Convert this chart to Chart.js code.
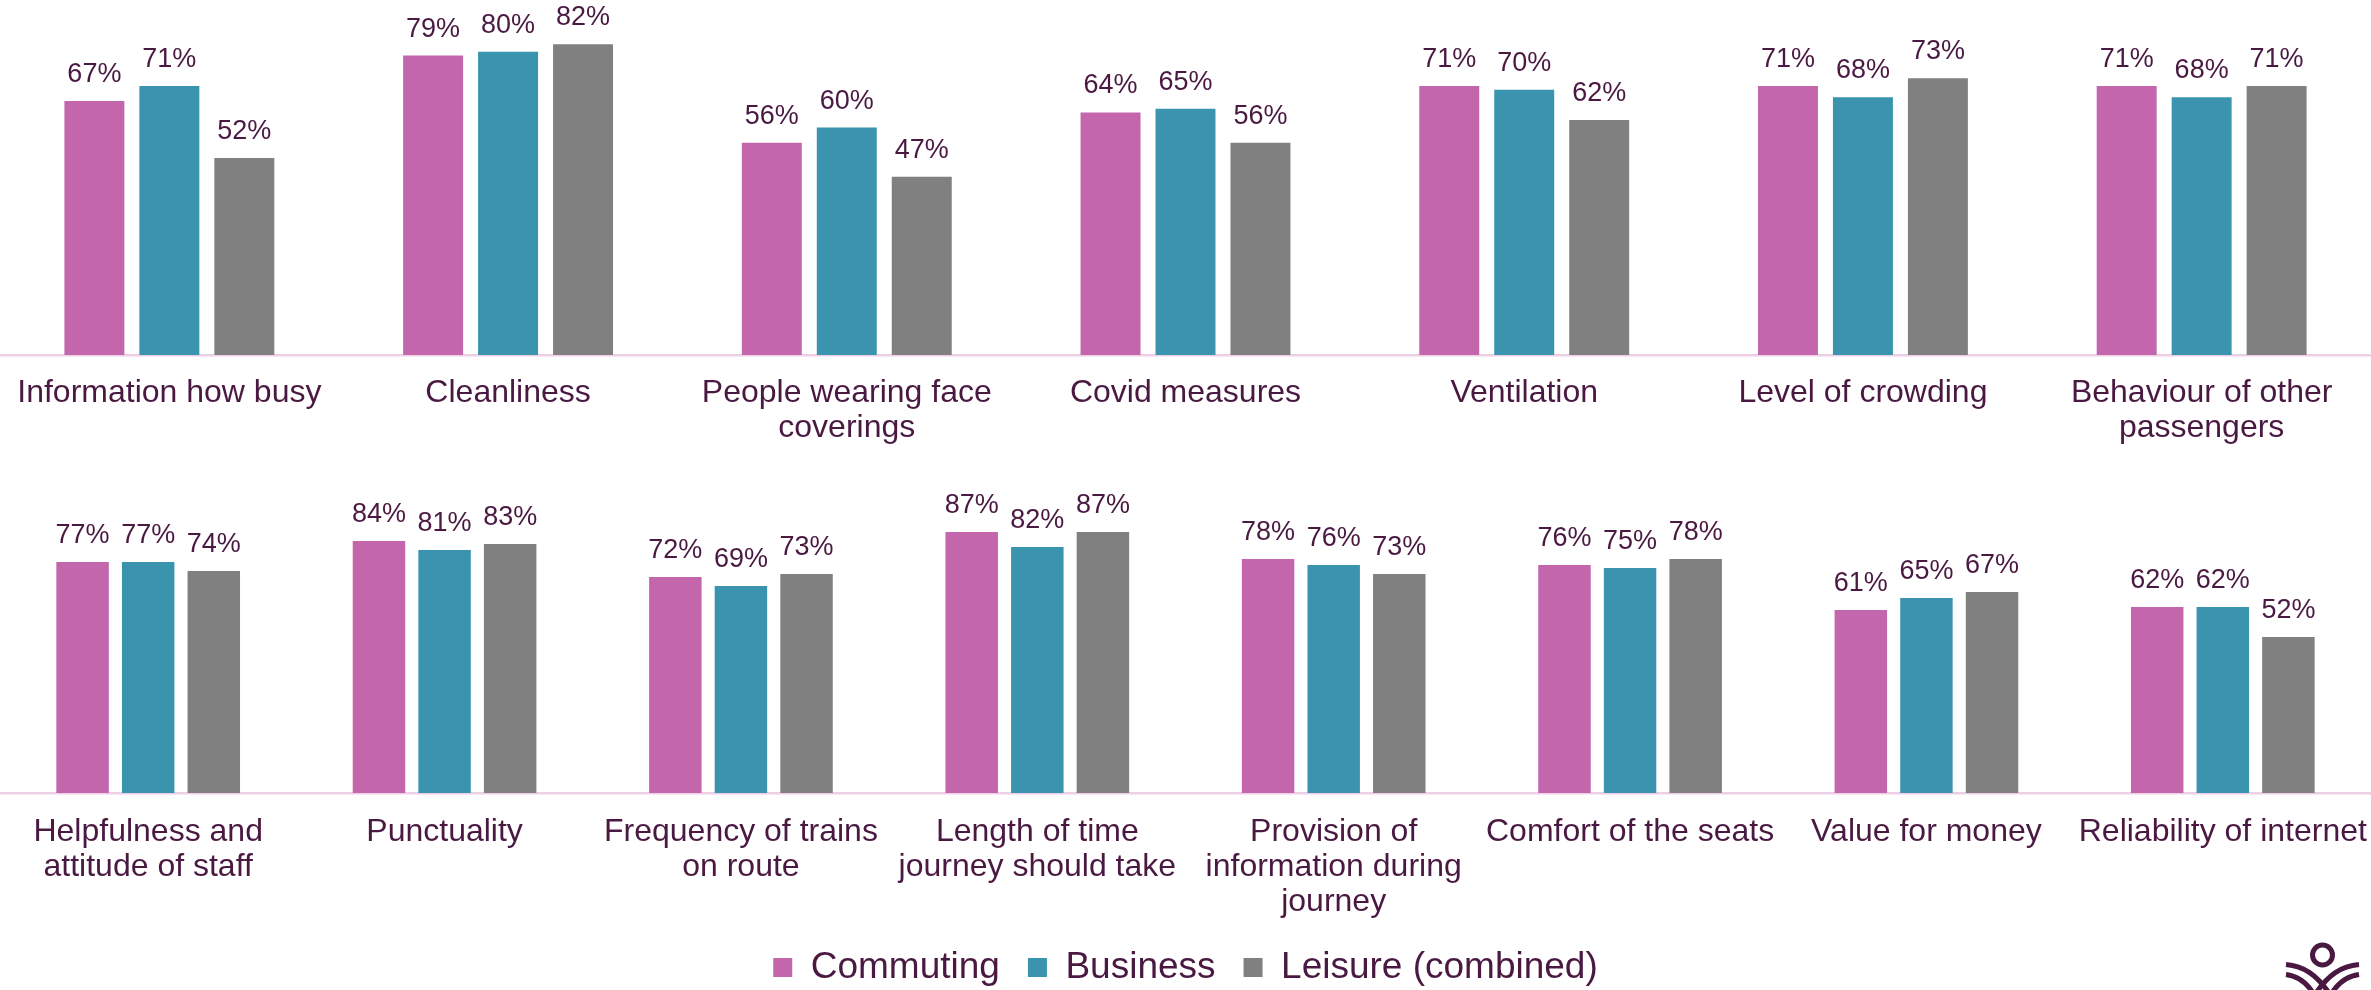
<!DOCTYPE html>
<html>
<head>
<meta charset="utf-8">
<title>Satisfaction by journey purpose</title>
<script src="https://cdn.jsdelivr.net/npm/chart.js@4.4.1/dist/chart.umd.min.js"></script>
<style>
  html, body { margin: 0; padding: 0; background: #ffffff; overflow: hidden; }
  #wrap { position: relative; width: 2371px; height: 990px; overflow: hidden; background: #ffffff; }
  #wrap canvas { position: absolute; left: 0; }
  #upper { top: 0; }
  #lower { top: 446px; }
  #logo { position: absolute; left: 2270px; top: 930px; }
</style>
</head>
<body>
<div id="wrap">
  <canvas id="upper" width="2371" height="450"></canvas>
  <canvas id="lower" width="2371" height="550"></canvas>
  <svg id="logo" width="101" height="60" viewBox="2270 930 101 60">
    <g fill="none" stroke="#4A1942" stroke-width="5" stroke-linecap="butt">
      <circle cx="2322.5" cy="955" r="10"/>
      <path d="M2286 964.5 C2303 966 2317 974 2331 996"/>
      <path d="M2359 964.5 C2342 966 2328 974 2314 996"/>
      <path d="M2286 974.5 C2298 976 2307 982 2315 996"/>
      <path d="M2359 974.5 C2347 976 2338 982 2330 996"/>
    </g>
  </svg>
</div>
<script>
// Series
const seriesNames = ['Commuting', 'Business', 'Leisure (combined)'];

// Upper panel
const upperCategories = [
  'Information how busy',
  'Cleanliness',
  ['People wearing face', 'coverings'],
  'Covid measures',
  'Ventilation',
  'Level of crowding',
  ['Behaviour of other', 'passengers']
];
const upperCommuting = [67, 79, 56, 64, 71, 71, 71];
const upperBusiness  = [71, 80, 60, 65, 70, 68, 68];
const upperLeisure   = [52, 82, 47, 56, 62, 73, 71];

// Lower panel
const lowerCategories = [
  ['Helpfulness and', 'attitude of staff'],
  'Punctuality',
  ['Frequency of trains', 'on route'],
  ['Length of time', 'journey should take'],
  ['Provision of', 'information during', 'journey'],
  'Comfort of the seats',
  'Value for money',
  'Reliability of internet'
];
const lowerCommuting = [77, 84, 72, 87, 78, 76, 61, 62];
const lowerBusiness  = [77, 81, 69, 82, 76, 75, 65, 62];
const lowerLeisure   = [74, 83, 73, 87, 73, 78, 67, 52];

// Styling
const FONT = '"Liberation Sans", Arial, Helvetica, sans-serif';
const TEXT = '#4A1942';
const AXIS = '#EDD0E6';
const COLORS = ['#C466AC', '#3A94AE', '#808080'];

// Percentage labels above every bar
const valueLabels = {
  id: 'valueLabels',
  afterDatasetsDraw(chart) {
    const ctx = chart.ctx;
    ctx.save();
    ctx.font = '27px ' + FONT;
    ctx.fillStyle = TEXT;
    ctx.textAlign = 'center';
    ctx.textBaseline = 'middle';
    chart.data.datasets.forEach((ds, i) => {
      chart.getDatasetMeta(i).data.forEach((bar, j) => {
        ctx.fillText(ds.data[j] + '%', bar.x, bar.y - 26.5);
      });
    });
    ctx.restore();
  }
};

function buildDatasets(series) {
  return series.map((values, i) => ({
    label: seriesNames[i],
    data: values,
    backgroundColor: COLORS[i],
    borderColor: COLORS[i],
    borderWidth: 0,
    categoryPercentage: 0.664,
    barPercentage: 0.8
  }));
}

function makePanel(canvas, labels, series, cfg) {
  return new Chart(canvas, {
    type: 'bar',
    data: { labels: labels, datasets: buildDatasets(series) },
    options: {
      responsive: false,
      animation: false,
      devicePixelRatio: 1,
      layout: { padding: 0 },
      plugins: {
        legend: cfg.legend,
        tooltip: { enabled: false },
        title: { display: false }
      },
      scales: {
        x: {
          grid: {
            display: true,
            drawOnChartArea: false,
            color: 'rgba(0,0,0,0)',
            tickColor: 'rgba(0,0,0,0)',
            tickLength: cfg.tickGap
          },
          border: { display: true, color: AXIS, width: 2.5 },
          ticks: {
            autoSkip: false,
            maxRotation: 0,
            minRotation: 0,
            padding: 0,
            color: TEXT,
            font: { family: FONT, size: 32, lineHeight: '35px' }
          },
          afterFit(scale) { scale.height = cfg.axisHeight; }
        },
        y: { display: false, min: 0, max: cfg.max }
      }
    },
    plugins: [valueLabels]
  });
}

makePanel(document.getElementById('upper'), upperCategories,
  [upperCommuting, upperBusiness, upperLeisure],
  { legend: { display: false }, tickGap: 21, axisHeight: 95, max: 355 / 3.79 });

makePanel(document.getElementById('lower'), lowerCategories,
  [lowerCommuting, lowerBusiness, lowerLeisure],
  {
    legend: {
      display: true,
      position: 'bottom',
      labels: {
        boxWidth: 19,
        boxHeight: 19,
        padding: 28,
        color: TEXT,
        font: { family: FONT, size: 37 }
      }
    },
    tickGap: 22,
    axisHeight: 128,
    max: 347 / 3.0
  });
</script>
</body>
</html>
